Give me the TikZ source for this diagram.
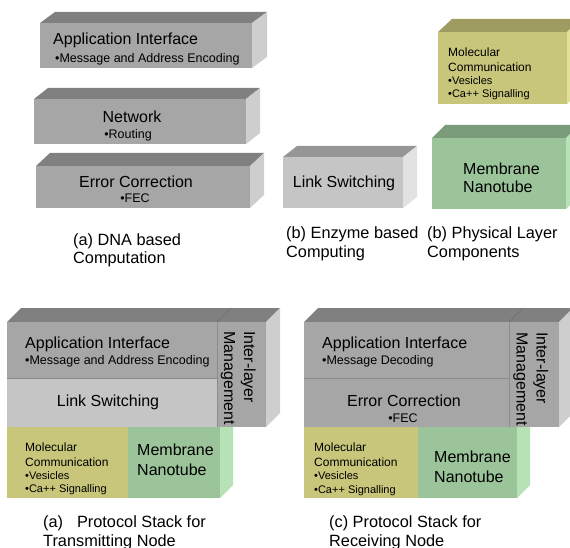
\documentclass[tikz,border=0pt]{standalone}
\usepackage{fontspec}
\setmainfont{Liberation Sans}

% face colours of the slabs
\definecolor{gfront}{RGB}{166,166,166}
\definecolor{gtop}{RGB}{128,128,128}
\definecolor{gside}{RGB}{206,206,206}
\definecolor{lfront}{RGB}{197,197,197}
\definecolor{ltop}{RGB}{150,150,150}
\definecolor{lside}{RGB}{226,226,226}
\definecolor{yfront}{RGB}{200,198,122}
\definecolor{ytop}{RGB}{158,156,96}
\definecolor{yside}{RGB}{224,224,150}
\definecolor{mfront}{RGB}{155,196,155}
\definecolor{mtop}{RGB}{122,156,122}
\definecolor{mside}{RGB}{182,226,182}
\definecolor{seam}{RGB}{140,140,140}

% 3-D slab: x1 y1 x2 y2 (front face), dx dy (depth), front, top, side colours
\newcommand\slab[9]{%
  \fill[#8] (#1,#2) -- ({#1+#5},{#2-#6}) -- ({#3+#5},{#2-#6}) -- (#3,#2) -- cycle;
  \fill[#9] (#3,#2) -- ({#3+#5},{#2-#6}) -- ({#3+#5},{#4-#6}) -- (#3,#4) -- cycle;
  \fill[#7] (#1,#2) rectangle (#3,#4);}

\tikzset{
  txtL/.style={font=\fontsize{16}{18}\selectfont, inner sep=0pt},
  txtC/.style={font=\fontsize{16.3}{18}\selectfont, inner sep=0pt},
  txtM/.style={font=\fontsize{12.5}{14}\selectfont, inner sep=0pt},
  txtN/.style={font=\fontsize{12}{14}\selectfont, inner sep=0pt},
  txtS/.style={font=\fontsize{11}{13}\selectfont, inner sep=0pt},
  seamline/.style={draw=seam, line width=0.5pt},
}

\begin{document}
\begin{tikzpicture}[x=1pt, y=-1pt]
\useasboundingbox (0,0) rectangle (570,548);
\fill[white] (0,0) rectangle (570,548);

% ---------- (a) DNA based computation ----------
\slab{40}{23}{252}{68}{15}{11}{gfront}{gtop}{gside}
\node[txtL, anchor=base west] (a1) at (53,45) {Application Interface};
\node[txtM, anchor=base west] (a1s) at (55,62.5) {•Message and Address Encoding};

\slab{34}{99}{246}{144}{14}{11}{gfront}{gtop}{gside}
\node[txtL, anchor=base] (a2) at (132,123) {Network};
\node[txtM, anchor=base] (a2s) at (128,138.5) {•Routing};

\slab{36}{166}{250}{208}{14}{13}{gfront}{gtop}{gside}
\node[txtL, anchor=base] (a3) at (136,188) {Error Correction};
\node[txtM, anchor=base] (a3s) at (135,203) {•FEC};

\node[txtC, anchor=base west] (capa1) at (73,245) {(a) DNA based};
\node[txtC, anchor=base west] (capa2) at (73,263) {Computation};

% ---------- (b) enzyme based computing ----------
\slab{283}{157}{403}{208}{14}{11}{lfront}{ltop}{lside}
\node[txtL, anchor=base] (b1) at (344,188) {Link Switching};
\node[txtC, anchor=base west] (capb1) at (286,238) {(b) Enzyme based};
\node[txtC, anchor=base west] (capb2) at (286,257) {Computing};

% ---------- (b) physical layer components ----------
\slab{438}{32}{567}{104}{14}{13}{yfront}{ytop}{yside}
\node[txtN, anchor=base west] (p1) at (448,56.5) {Molecular};
\node[txtN, anchor=base west] (p2) at (448,71.5) {Communication};
\node[txtS, anchor=base west] (p3) at (448,85) {•Vesicles};
\node[txtS, anchor=base west] (p4) at (448,97.5) {•Ca++ Signalling};

\slab{432}{138}{566}{209}{13}{13}{mfront}{mtop}{mside}
\node[txtL, anchor=base west] (m1) at (463,175) {Membrane};
\node[txtL, anchor=base west] (m2) at (463,193) {Nanotube};

\node[txtC, anchor=base west] (capc1) at (427,238) {(b) Physical Layer};
\node[txtC, anchor=base west] (capc2) at (427,257) {Components};

% ---------- protocol stack, transmitting node ----------
\fill[mside] (220,427) -- (233,414) -- (233,485) -- (220,498) -- cycle;
\slab{7}{322}{266}{427}{14}{14}{gfront}{gtop}{gside}
\draw[gtop!85!black, line width=0.4pt] (217,322) -- (231,308);
\fill[lfront] (7,378) rectangle (217,427);
\draw[seamline] (7,378) -- (217,378);
\draw[seamline] (217,322) -- (217,427);
\fill[yfront] (7,427) rectangle (128,498);
\fill[mfront] (128,427) rectangle (220,498);

\node[txtL, anchor=base west] (t1) at (25,348) {Application Interface};
\node[txtM, anchor=base west] (t1s) at (25,364.5) {•Message and Address Encoding};
\node[txtL, anchor=base] (t2) at (108,406) {Link Switching};
\node[txtL, anchor=base west, rotate=-90] (t3a) at (244,331) {Inter-layer};
\node[txtL, anchor=base west, rotate=-90] (t3b) at (224,331) {Management};
\node[txtN, anchor=base west] (t4a) at (25,451.7) {Molecular};
\node[txtN, anchor=base west] (t4b) at (25,466) {Communication};
\node[txtS, anchor=base west] (t4c) at (25,479) {•Vesicles};
\node[txtS, anchor=base west] (t4d) at (25,492.5) {•Ca++ Signalling};
\node[txtL, anchor=base west] (t5a) at (137,455.7) {Membrane};
\node[txtL, anchor=base west] (t5b) at (137,475.7) {Nanotube};

\node[txtC, anchor=base west] (capd1) at (43,527) {(a)\hspace{14pt}Protocol Stack for};
\node[txtC, anchor=base west] (capd2) at (43,546) {Transmitting Node};

% ---------- protocol stack, receiving node ----------
\fill[mside] (517,427) -- (530,414) -- (530,485) -- (517,498) -- cycle;
\slab{304}{322}{559}{427}{14}{14}{gfront}{gtop}{gside}
\draw[gtop!85!black, line width=0.4pt] (509,322) -- (523,308);
\draw[seamline] (304,378) -- (509,378);
\draw[seamline] (509,322) -- (509,427);
\fill[yfront] (304,427) rectangle (418,498);
\fill[mfront] (418,427) rectangle (517,498);

\node[txtL, anchor=base west] (r1) at (322,348) {Application Interface};
\node[txtM, anchor=base west] (r1s) at (322,364.5) {•Message Decoding};
\node[txtL, anchor=base] (r2) at (404,406) {Error Correction};
\node[txtM, anchor=base] (r2s) at (403,422.5) {•FEC};
\node[txtL, anchor=base west, rotate=-90] (r3a) at (536.5,332) {Inter-layer};
\node[txtL, anchor=base west, rotate=-90] (r3b) at (516.5,332) {Management};
\node[txtN, anchor=base west] (r4a) at (314,451.7) {Molecular};
\node[txtN, anchor=base west] (r4b) at (314,466.5) {Communication};
\node[txtS, anchor=base west] (r4c) at (314,479) {•Vesicles};
\node[txtS, anchor=base west] (r4d) at (314,493) {•Ca++ Signalling};
\node[txtL, anchor=base west] (r5a) at (434,462.7) {Membrane};
\node[txtL, anchor=base west] (r5b) at (434,482.7) {Nanotube};

\node[txtC, anchor=base west] (cape1) at (329,527) {(c) Protocol Stack for};
\node[txtC, anchor=base west] (cape2) at (329,546) {Receiving Node};
\end{tikzpicture}
\end{document}
